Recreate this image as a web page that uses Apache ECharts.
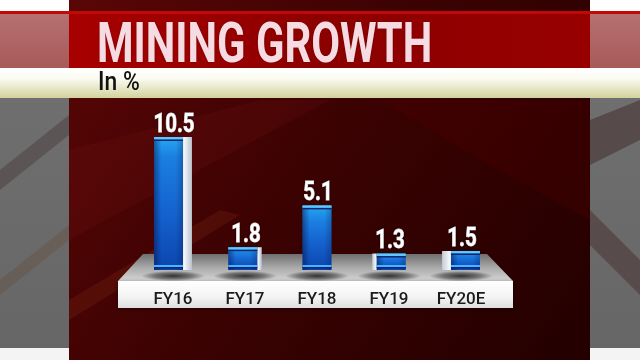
<!DOCTYPE html>
<html>
<head>
<meta charset="utf-8">
<script src="https://cdn.jsdelivr.net/npm/echarts@6/dist/echarts.min.js"></script>
<style>html,body{margin:0;padding:0;background:#6d6d6d;}#c{width:640px;height:360px;}</style>
</head>
<body>
<div id="c"></div>
<script>
const categories = ['FY16', 'FY17', 'FY18', 'FY19', 'FY20E'];
const values = [10.5, 1.8, 5.1, 1.3, 1.5];
const valueLabels = ['10.5', '1.8', '5.1', '1.3', '1.5'];
const titleText = 'MINING GROWTH';
const subtitleText = 'In %';

const chart = echarts.init(document.getElementById('c'), null, {renderer: 'canvas'});

function lg(x0, y0, x1, y1, stops) {
  return new echarts.graphic.LinearGradient(x0, y0, x1, y1, stops.map(s => ({offset: s[0], color: s[1]})));
}

const bgElements = [
  {type: 'rect', shape: {x: 0, y: 0, width: 640, height: 360}, style: {fill: lg(0,0,0,1,[[0,'#727272'],[1,'#666666']])}, z: -100},
  {type: 'polygon', shape: {points: [[0,170],[69,115],[69,135],[0,190]]}, style: {fill: 'rgba(60,40,40,0.35)'}, z: -99},
  {type: 'polygon', shape: {points: [[0,280],[69,225],[69,240],[0,295]]}, style: {fill: 'rgba(100,70,50,0.3)'}, z: -99},
  {type: 'polygon', shape: {points: [[590,120],[640,100],[640,140],[590,165]]}, style: {fill: 'rgba(60,30,30,0.45)'}, z: -99},
  {type: 'polygon', shape: {points: [[590,210],[640,260],[640,295],[590,245]]}, style: {fill: 'rgba(60,30,30,0.4)'}, z: -99},
  {type: 'rect', shape: {x: 0, y: 0, width: 640, height: 12}, style: {fill: '#ffffff'}, z: -98},
  {type: 'rect', shape: {x: 0, y: 348, width: 640, height: 12}, style: {fill: '#f4f4f4'}, z: -98},
  {type: 'rect', shape: {x: 0, y: 14, width: 640, height: 54}, style: {fill: lg(0,0,0,1,[[0,'#b57070'],[1,'#a85a5a']])}, z: -98},
  {type: 'rect', shape: {x: 69, y: 0, width: 521, height: 360}, style: {fill: lg(0,0,1,1,[[0,'#5a0606'],[0.45,'#3c0202'],[1,'#230000']])}, z: -97},
  {type: 'polygon', shape: {points: [[69,150],[260,100],[330,100],[69,240]]}, style: {fill: 'rgba(120,20,20,0.18)'}, z: -96},
  {type: 'polygon', shape: {points: [[69,300],[220,210],[240,215],[69,320]]}, style: {fill: 'rgba(170,70,30,0.16)'}, z: -96},
  {type: 'polygon', shape: {points: [[380,100],[590,100],[590,220],[480,160]]}, style: {fill: 'rgba(90,0,0,0.22)'}, z: -96},
  {type: 'rect', shape: {x: 0, y: 11, width: 640, height: 3}, style: {fill: '#c40808'}, z: -95},
  {type: 'rect', shape: {x: 69, y: 14, width: 521, height: 54}, style: {fill: lg(0,0,1,0,[[0,'#a80000'],[0.5,'#8c0000'],[1,'#980000']])}, z: -95},
  {type: 'rect', shape: {x: 0, y: 68, width: 640, height: 30}, style: {fill: lg(0,0,0,1,[[0,'#ffffff'],[0.35,'#fbfbf2'],[1,'#d2d29c']])}, z: -94},
  {type: 'text', x: 97, y: 48, scaleX: 0.76, z: 5,
    style: {text: titleText, fontFamily: 'Roboto', fontWeight: 'bold', fontSize: 55, verticalAlign: 'middle', align: 'left',
      fill: '#f6dbe2', textShadowBlur: 2, textShadowColor: 'rgba(60,0,0,0.5)'}},
  {type: 'text', x: 98, y: 83, scaleX: 0.88, z: 5,
    style: {text: subtitleText, fontFamily: 'Roboto', fontWeight: 500, fontSize: 26, verticalAlign: 'middle', align: 'left', fill: '#111111'}},
  {type: 'polygon', shape: {points: [[143,254],[487,254],[513,281],[118,281]]},
    style: {fill: lg(0,0,0,1,[[0,'#6e6e6e'],[0.5,'#a9a9a9'],[1,'#d6d6d6']])}, z: 1},
  {type: 'rect', shape: {x: 118, y: 281, width: 395, height: 27},
    style: {fill: lg(0,0,0,1,[[0,'#ffffff'],[0.6,'#f3f3f3'],[1,'#dedede']]), shadowBlur: 4, shadowColor: 'rgba(0,0,0,0.5)', shadowOffsetY: 1}, z: 1}
];

function renderBar(params, api) {
  const cs = params.coordSys;
  const vc = cs.x + cs.width / 2;
  const base = api.coord([api.value(0), 0]);
  const top = api.coord([api.value(0), api.value(1)]);
  const cx = base[0];
  const yBot = base[1];
  const yTop = top[1];
  const h = yBot - yTop;
  const fw = 29;
  const off = cx - vc;
  const s = Math.abs(off) * 0.062;
  const total = fw + s;
  const left = cx - total / 2;
  let fx, sx;
  if (off < 0) { fx = left; sx = left + fw; } else { sx = left; fx = left + s; }
  const children = [];
  children.push({type: 'circle', x: cx, y: yBot + 6, scaleY: 0.16,
    shape: {cx: 0, cy: 0, r: 32},
    style: {fill: new echarts.graphic.RadialGradient(0.5, 0.5, 0.5, [{offset: 0, color: 'rgba(0,0,0,0.75)'}, {offset: 0.6, color: 'rgba(0,0,0,0.4)'}, {offset: 1, color: 'rgba(0,0,0,0)'}])}});
  if (s > 0.5) {
    children.push({type: 'rect', shape: {x: sx, y: yTop, width: s, height: h},
      style: {fill: off < 0 ? lg(0,0,1,0,[[0,'#ffffff'],[1,'#b9c2cf']]) : lg(0,0,1,0,[[0,'#c4ccd8'],[1,'#ffffff']])}});
  }
  children.push({type: 'rect', shape: {x: fx, y: yTop, width: fw, height: h},
    style: {fill: lg(0,0,0,1,[[0,'#25a8f2'],[Math.min(0.25, 20 / h), '#1b7fe0'],[0.6,'#1460cc'],[1,'#0c45ad']])}});
  children.push({type: 'rect', shape: {x: fx, y: yTop, width: fw, height: h},
    style: {fill: lg(0,0,1,0,[[0,'rgba(0,10,60,0.45)'],[0.25,'rgba(0,10,60,0)'],[0.75,'rgba(0,10,60,0)'],[1,'rgba(0,10,60,0.25)']])}});
  children.push({type: 'rect', shape: {x: fx, y: yTop, width: fw, height: 2.5}, style: {fill: '#5cc8ff'}});
  children.push({type: 'rect', shape: {x: fx, y: yTop + 2.5, width: fw, height: 1.5}, style: {fill: '#0a2470'}});
  children.push({type: 'rect', shape: {x: fx, y: yBot - 5, width: fw, height: 2}, style: {fill: '#45b6ff'}});
  children.push({type: 'rect', shape: {x: fx, y: yBot - 3, width: fw, height: 1.5}, style: {fill: '#0a2470'}});
  children.push({type: 'text', x: cx + 1, y: yTop + 1, scaleX: 0.82,
    style: {text: valueLabels[params.dataIndex], fontFamily: 'Roboto', fontWeight: 'bold', fontSize: 25,
      align: 'center', verticalAlign: 'bottom', fill: '#ffffff',
      stroke: '#ffffff', lineWidth: 0.8,
      textShadowBlur: 2, textShadowColor: 'rgba(0,0,0,0.5)'}});
  return {type: 'group', children: children};
}

const option = {
  backgroundColor: 'transparent',
  animation: false,
  graphic: {elements: bgElements},
  grid: {left: 137, width: 360, top: 118, height: 152, containLabel: false},
  xAxis: {
    type: 'category', data: categories,
    axisLine: {show: false}, axisTick: {show: false}, splitLine: {show: false},
    axisLabel: {margin: 21, fontFamily: 'Roboto', fontWeight: 500, fontSize: 17, color: '#1a1a1a'},
    z: 6
  },
  yAxis: {type: 'value', min: 0, max: 12, show: false},
  series: [{
    type: 'custom',
    z: 4,
    renderItem: renderBar,
    data: values.map((v, i) => [i, v]),
    encode: {x: 0, y: 1}
  }]
};
chart.setOption(option);
</script>
</body>
</html>
